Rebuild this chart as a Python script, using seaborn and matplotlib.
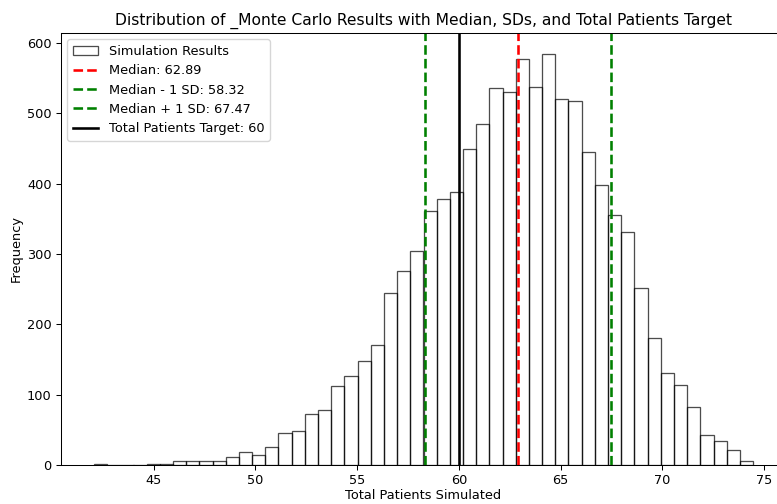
import numpy as np
import pandas as pd
import matplotlib
matplotlib.use("Agg")
import matplotlib.pyplot as plt
import seaborn as sns

# histogram counts (50 equal bins)
bin_lo = 42.07
bin_hi = 74.45
counts = [1, 0, 0, 0, 1, 2, 5, 5, 6, 6,
          11, 18, 14, 26, 46, 48, 73, 78, 113, 127,
          148, 171, 245, 276, 304, 361, 378, 388, 449, 485,
          536, 531, 577, 538, 585, 520, 518, 445, 398, 355,
          332, 252, 180, 131, 114, 83, 42, 34, 22, 6]

median = 62.89
sd_low = 58.32
sd_high = 67.47
target = 60

edges = np.linspace(bin_lo, bin_hi, len(counts) + 1)
centers = (edges[:-1] + edges[1:]) / 2
df = pd.DataFrame({'patients': centers, 'n': counts})

s = 0.93  # scale factor of the saved image
plt.rcParams['font.size'] = 10 * s

fig = plt.figure(figsize=(7.77, 5.04), dpi=100)
ax = fig.add_axes([61 / 777, 39 / 504, 725 / 777, 432 / 504])

sns.histplot(data=df, x='patients', weights='n', bins=len(counts),
             binrange=(bin_lo, bin_hi), ax=ax,
             fill=False, color='black', alpha=0.7, linewidth=1.0 * s,
             label='Simulation Results')
ax.axvline(median, color='red', linestyle='--', linewidth=2 * s, label=f'Median: {median:.2f}')
ax.axvline(sd_low, color='green', linestyle='--', linewidth=2 * s, label=f'Median - 1 SD: {sd_low:.2f}')
ax.axvline(sd_high, color='green', linestyle='--', linewidth=2 * s, label=f'Median + 1 SD: {sd_high:.2f}')
ax.axvline(target, color='black', linestyle='-', linewidth=2 * s, label=f'Total Patients Target: {target}')

ax.set_title('Distribution of _Monte Carlo Results with Median, SDs, and Total Patients Target', fontsize=12 * s)
ax.set_xlabel('Total Patients Simulated', labelpad=1.5)
ax.set_ylabel('Frequency', labelpad=3)
ax.tick_params(width=0.8 * s, length=3.5 * s)
for sp in ax.spines.values():
    sp.set_linewidth(0.8 * s)

handles, labels = ax.get_legend_handles_labels()
order = [labels.index('Simulation Results')] + [i for i, l in enumerate(labels) if l != 'Simulation Results']
ax.legend([handles[i] for i in order], [labels[i] for i in order], loc='upper left')

fig.savefig('out.png', dpi=100)
